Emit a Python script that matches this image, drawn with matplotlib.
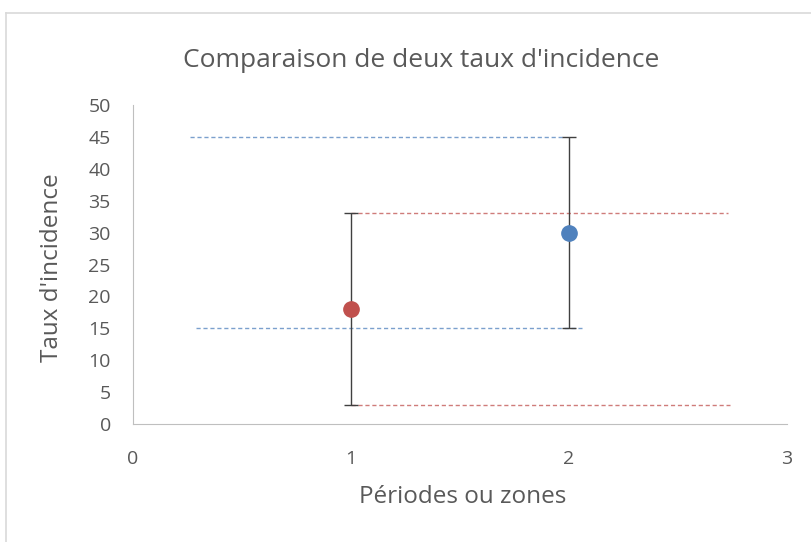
import matplotlib
matplotlib.use("Agg")
import matplotlib.pyplot as plt
from matplotlib.lines import Line2D

# data
x_pts = [1, 2]
y_pts = [18, 30]
low = [3, 15]
high = [33, 45]
pt_colors = ["#c0504d", "#4f81bd"]
# dashed reference lines: (y, x start, x end, colour)
ref_y = [45, 15, 33, 3]
ref_x0 = [0.26, 0.29, 1.0, 1.0]
ref_x1 = [1.98, 2.06, 2.73, 2.74]
ref_col = ["#4f81bd", "#4f81bd", "#c0504d", "#c0504d"]

plt.rcParams['font.family'] = ['Open Sans', 'DejaVu Sans']
gray = "#595959"

fig = plt.figure(figsize=(8.12, 5.42), dpi=100)
ax = fig.add_axes([133/812, 1-424/542, (787-133)/812, (424-105)/542])

for y, a, b, c in zip(ref_y, ref_x0, ref_x1, ref_col):
    ax.plot([a, b], [y, y], linestyle=(0, (3, 2)), color=c, lw=1, alpha=0.75)

for x, y, lo, hi, c in zip(x_pts, y_pts, low, high, pt_colors):
    ax.errorbar(x, y, yerr=[[y - lo], [hi - y]], fmt="none", ecolor="#404040",
                elinewidth=1, capsize=5, capthick=1)
    ax.plot(x, y, "o", color=c, markersize=11, zorder=5)

ax.set_xlim(0, 3)
ax.set_ylim(0, 50)
ax.set_xticks([0, 1, 2, 3])
ax.set_yticks(range(0, 51, 5))
for s in ["top", "right"]:
    ax.spines[s].set_visible(False)
for s in ["left", "bottom"]:
    ax.spines[s].set_color("#bfbfbf")
ax.tick_params(length=0, colors=gray, labelsize=14)
ax.tick_params(axis="y", pad=16)
ax.tick_params(axis="x", pad=19)

ax.set_ylabel("Taux d'incidence", color=gray, fontsize=17.5)
ax.yaxis.set_label_coords(-0.105, 0.49)
fig.text(463/812, 1-497/542, "Périodes ou zones", color=gray, fontsize=17.5,
         ha="center", va="center")
fig.text(421/812, 1-60/542, "Comparaison de deux taux d'incidence", color=gray,
         fontsize=19, ha="center", va="center")

# chart border
fig.add_artist(Line2D([6/812, 6/812], [0, 1-13/542], color="#d9d9d9", lw=1.2))
fig.add_artist(Line2D([6/812, 1], [1-13/542, 1-13/542], color="#d9d9d9", lw=1.2))

fig.savefig("out.png", dpi=100)
